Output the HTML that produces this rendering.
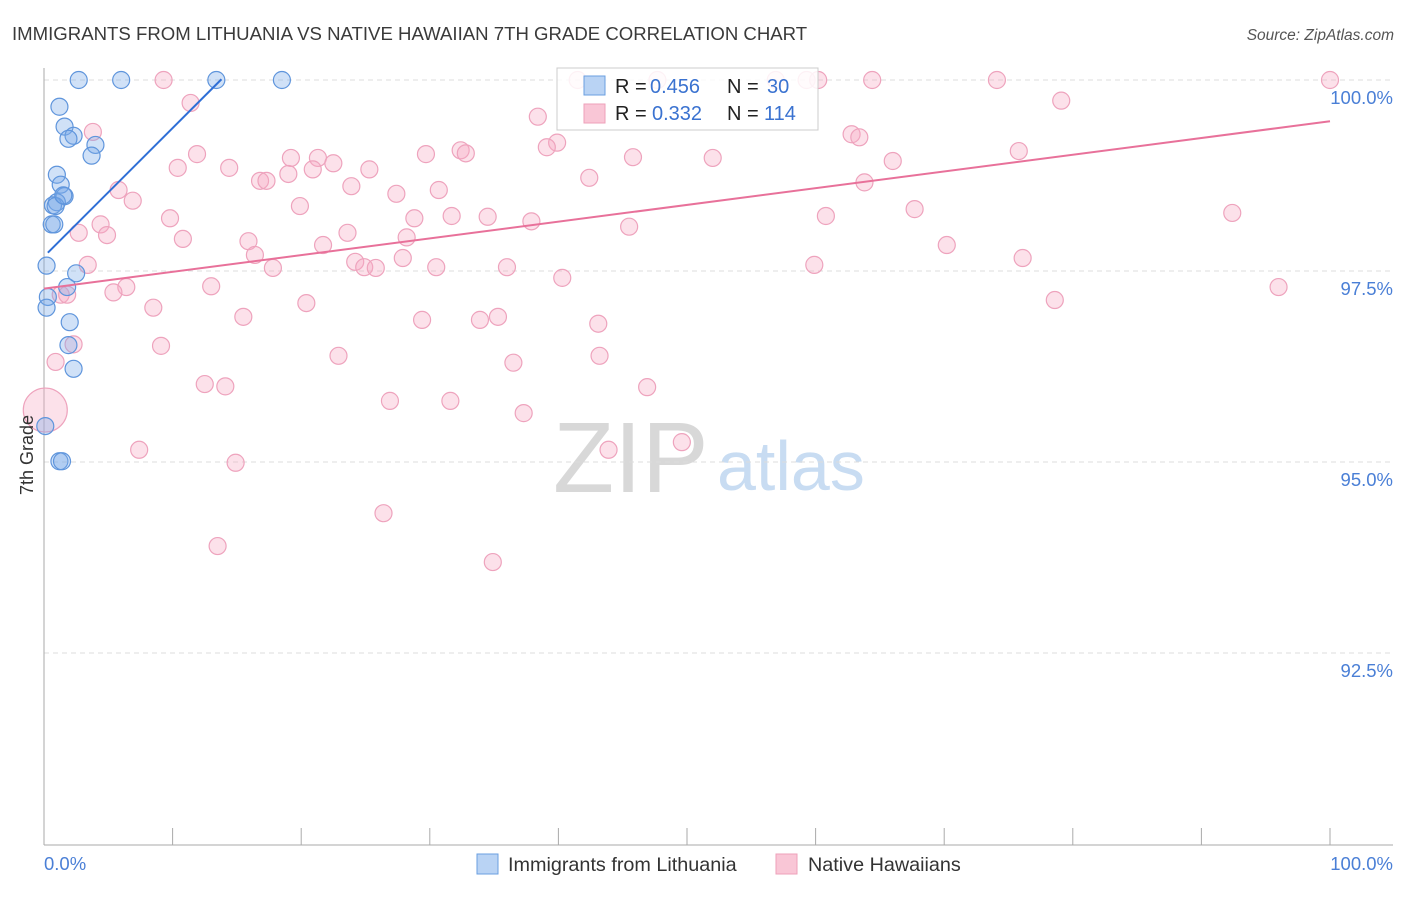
<!DOCTYPE html>
<html><head><meta charset="utf-8"><style>
body{margin:0;background:#fff;font-family:"Liberation Sans",sans-serif;}
svg text{font-family:"Liberation Sans",sans-serif;}
</style></head><body>
<svg id="chart" width="1406" height="892">
<text x="12" y="40" font-size="18.6" fill="#3a3a3a">IMMIGRANTS FROM LITHUANIA VS NATIVE HAWAIIAN 7TH GRADE CORRELATION CHART</text>
<text x="1394" y="40" font-size="15.5" fill="#555" font-style="italic" text-anchor="end">Source: ZipAtlas.com</text>
<g>
<text x="553" y="492" font-size="100" fill="#d8d8d8" font-family="Liberation Serif,serif">ZIP</text>
<text x="717" y="490" font-size="70" fill="#c8dcf2">atlas</text>
</g>
<g id="grid"></g>
<g id="axes"></g>
<g id="pts"></g>
<g id="lines"></g>
<text x="33" y="455" font-size="18" fill="#333" text-anchor="middle" transform="rotate(-90 33 455)">7th Grade</text>
<g>
<rect x="557" y="68" width="261" height="62" fill="rgba(255,255,255,0.85)" stroke="#ccc"/>
<rect x="584" y="76" width="21" height="19" fill="#b9d3f4" stroke="#6a9fe0"/>
<text x="615" y="93" font-size="20" fill="#222">R = </text><text x="650" y="93" font-size="20" fill="#3a72d0">0.456</text>
<text x="727" y="93" font-size="20" fill="#222">N = </text><text x="767" y="93" font-size="20" fill="#3a72d0">30</text>
<rect x="584" y="104" width="21" height="19" fill="#f9c6d6" stroke="#eea0ba"/>
<text x="615" y="120" font-size="20" fill="#222">R = </text><text x="652" y="120" font-size="20" fill="#3a72d0">0.332</text>
<text x="727" y="120" font-size="20" fill="#222">N = </text><text x="764" y="120" font-size="20" fill="#3a72d0">114</text>
</g>
<g>
<rect x="477" y="854" width="21" height="20" fill="#b9d3f4" stroke="#6a9fe0"/>
<text x="508" y="871" font-size="19.8" fill="#333">Immigrants from Lithuania</text>
<rect x="776" y="854" width="21" height="20" fill="#f9c6d6" stroke="#eea0ba"/>
<text x="808" y="871" font-size="19.8" fill="#333">Native Hawaiians</text>
</g>
</svg>
<script>
const yTicks=[100,97.5,95,92.5];
const yTickLabels=["100.0%","97.5%","95.0%","92.5%"];
const blueX=[2.7,6.0,13.4,18.5,1.2,1.6,2.3,1.9,4.0,3.7,1.0,1.3,1.6,1.0,0.7,0.6,0.2,2.5,1.8,0.3,0.2,2.0,1.9,2.3,0.1,1.2,1.4,0.9,0.8,1.5];
const blueY=[100,100,100,100,99.65,99.39,99.27,99.23,99.15,99.01,98.76,98.63,98.48,98.40,98.36,98.11,97.57,97.47,97.29,97.16,97.02,96.83,96.53,96.22,95.47,95.01,95.01,98.35,98.11,98.49];
const pinkX=[9.3,41.5,47.7,56.9,59.3,60.2,64.4,74.1,100,11.4,79.1,38.4,3.8,62.8,63.4,39.9,39.1,32.4,32.8,11.9,29.7,45.8,52.0,75.8,19.2,21.3,22.5,66.0,10.4,14.4,20.9,25.3,19.0,42.4,16.8,17.3,63.8,23.9,5.8,30.7,27.4,6.9,19.9,67.7,92.4,9.8,28.8,31.7,34.5,60.8,37.9,4.4,45.5,2.7,4.9,23.6,10.8,15.9,28.2,21.7,70.2,16.4,27.9,76.1,3.4,24.2,24.9,25.8,17.8,36.0,30.5,59.9,40.3,13.0,6.4,96.0,1.3,1.8,5.4,78.6,20.4,8.5,15.5,29.4,33.9,35.3,43.1,2.3,9.1,22.9,43.2,36.5,0.9,12.5,14.1,46.9,26.9,31.6,37.3,7.4,49.6,43.9,14.9,26.4,13.5,34.9,0.1];
const pinkY=[100,100,100,100,100,100,100,100,100,99.70,99.73,99.52,99.32,99.29,99.25,99.18,99.12,99.08,99.04,99.03,99.03,98.99,98.98,99.07,98.98,98.98,98.91,98.94,98.85,98.85,98.83,98.83,98.77,98.72,98.68,98.68,98.66,98.61,98.56,98.56,98.51,98.42,98.35,98.31,98.26,98.19,98.19,98.22,98.21,98.22,98.15,98.11,98.08,98.00,97.97,98.00,97.92,97.89,97.94,97.84,97.84,97.71,97.67,97.67,97.58,97.62,97.55,97.54,97.54,97.55,97.55,97.58,97.41,97.30,97.29,97.29,97.19,97.19,97.22,97.12,97.08,97.02,96.90,96.86,96.86,96.90,96.81,96.54,96.52,96.39,96.39,96.30,96.31,96.02,95.99,95.98,95.80,95.80,95.64,95.16,95.26,95.16,94.99,94.33,93.90,93.69,95.68];
const pinkR=new Array(pinkX.length).fill(8.5);pinkR[pinkR.length-1]=22;
const blueLine=[[0.3,97.74],[13.8,100.01]];
const pinkLine=[[0,97.27],[100,99.46]];
const NS="http://www.w3.org/2000/svg";
const X=v=>44+v*12.86, Y=v=>80+(100-v)*76.4;
function mk(tag,attrs,parent){const e=document.createElementNS(NS,tag);for(const k in attrs)e.setAttribute(k,attrs[k]);document.getElementById(parent).appendChild(e);return e;}
yTicks.forEach((t,i)=>{
 const g=mk('line',{x1:44,x2:1393,y1:Y(t),y2:Y(t),stroke:'#dcdcdc','stroke-dasharray':'5,4'},'grid');
 
 
 const l=mk('text',{x:1393,y:Y(t)+24,'font-size':18.5,fill:'#4a7fd6','text-anchor':'end'},'grid');
 l.textContent=yTickLabels[i];
 
 
});
const ax=mk('line',{x1:44,x2:44,y1:68,y2:845,stroke:'#aaa'},'axes');


const bx=mk('line',{x1:44,x2:1393,y1:845,y2:845,stroke:'#aaa'},'axes');


for(let i=0;i<=10;i++){const t=mk('line',{x1:X(i*10),x2:X(i*10),y1:828,y2:845,stroke:'#aaa'},'axes');
 
 }
const x0=mk('text',{x:44,y:870,'font-size':18.5,fill:'#4a7fd6'},'axes');x0.textContent='0.0%';


const x1=mk('text',{x:1393,y:870,'font-size':18.5,fill:'#4a7fd6','text-anchor':'end'},'axes');x1.textContent='100.0%';


pinkX.forEach((v,i)=>{const c=mk('circle',{cx:X(v),cy:Y(pinkY[i]),r:pinkR[i],fill:'rgba(246,170,196,0.35)',stroke:'#eea3bd','stroke-width':1.2},'pts');
 
 });
blueX.forEach((v,i)=>{const c=mk('circle',{cx:X(v),cy:Y(blueY[i]),r:8.5,fill:'rgba(120,170,232,0.35)',stroke:'#5f95dc','stroke-width':1.2},'pts');
 
 });
const bl=mk('line',{x1:X(blueLine[0][0]),y1:Y(blueLine[0][1]),x2:X(blueLine[1][0]),y2:Y(blueLine[1][1]),stroke:'#2f6fd6','stroke-width':2},'lines');


const pl=mk('line',{x1:X(pinkLine[0][0]),y1:Y(pinkLine[0][1]),x2:X(pinkLine[1][0]),y2:Y(pinkLine[1][1]),stroke:'#e8719a','stroke-width':2},'lines');


</script>
</body></html>
